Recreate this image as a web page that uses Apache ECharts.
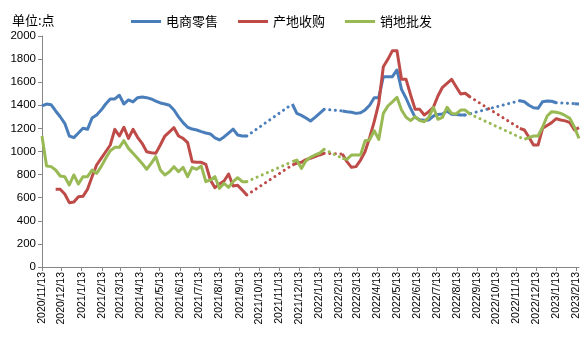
<!DOCTYPE html>
<html><head><meta charset="utf-8">
<script src="https://cdn.jsdelivr.net/npm/echarts@6/dist/echarts.min.js"></script>
<style>html,body{margin:0;padding:0;background:#fff}#c{width:586px;height:350px}</style>
</head><body><div id="c"></div>
<script>
// weekly observation dates start 2020/11/13, 119 weeks
const firstWeek = [2020, 11, 13];
const weekCount = 119;
const seriesNames = ['电商零售', '产地收购', '销地批发'];
const tickLabels = ['2020/11/13','2020/12/13','2021/1/13','2021/2/13','2021/3/13','2021/4/13','2021/5/13','2021/6/13','2021/7/13','2021/8/13','2021/9/13','2021/10/13','2021/11/13','2021/12/13','2022/1/13','2022/2/13','2022/3/13','2022/4/13','2022/5/13','2022/6/13','2022/7/13','2022/8/13','2022/9/13','2022/10/13','2022/11/13','2022/12/13','2023/1/13','2023/2/13'];
const yTicks = [0,200,400,600,800,1000,1200,1400,1600,1800,2000];
const _ = null;
const ecommerce = [
1394,1411,1405,1351,1301,1244,1134,1120,1160,1201,
1192,1290,1316,1359,1411,1455,1455,1487,1411,1446,
1429,1466,1472,1466,1455,1437,1420,1411,1400,1359,
1300,1250,1210,1194,1186,1172,1160,1152,1117,1100,
1126,1160,1194,1143,1134,1134,_,_,_,_,
_,_,_,_,_,1411,1330,1313,1290,1264,
1296,1330,1365,_,_,_,1351,1345,1340,1330,
1336,1360,1400,1466,1466,1648,1648,1648,1706,1538,
1461,1374,1296,1275,1270,1273,1307,1320,1325,1351,
1322,1320,1316,1316,_,_,_,_,_,_,
_,_,_,_,_,1440,1431,1400,1379,1374,
1431,1437,1435,1422,_,_,_,1414,1411];
const origin = [
_,_,_,673,673,632,557,563,609,612,
673,782,883,941,998,1056,1192,1134,1210,1114,
1192,1123,1071,998,990,984,1056,1134,1170,1206,
1134,1114,1077,912,906,906,889,753,687,719,
745,805,701,707,667,623,_,_,_,_,
_,_,_,_,_,883,900,906,930,941,
955,970,984,_,_,_,978,912,863,869,
926,1000,1120,1258,1417,1734,1798,1873,1873,1625,
1625,1489,1365,1365,1316,1345,1383,1480,1556,1590,
1625,1561,1498,1504,1474,_,_,_,_,_,
_,_,_,_,_,1201,1186,1123,1056,1056,
1201,1225,1250,1284,1273,1265,1250,1186,1206];
const wholesale = [
1134,874,869,840,788,782,710,797,719,782,
782,840,811,869,941,1007,1036,1036,1094,1027,
984,941,897,846,897,955,840,797,825,869,
825,863,782,863,846,874,739,753,782,681,
724,690,739,773,739,739,_,_,_,_,
_,_,_,_,_,912,926,854,920,950,
970,985,1019,_,_,_,941,932,970,970,
970,1094,1100,1180,1105,1330,1394,1430,1469,1359,
1296,1267,1301,1267,1258,1296,1383,1279,1296,1383,
1330,1325,1359,1359,1325,_,_,_,_,_,
_,_,_,_,_,_,1105,1120,1134,1134,
1210,1307,1345,1340,1330,1310,1287,1210,1114];
const colors = ['#4A7EBB', '#BE4B48', '#98B954'];

const dates = [];
for (let i = 0; i < weekCount; i++) dates.push(new Date(firstWeek[0], firstWeek[1]-1, firstWeek[2] + 7*i).getTime());
const toTs = s => { const p = s.split('/').map(Number); return new Date(p[0], p[1]-1, p[2]).getTime(); };
const tickTs = tickLabels.map(toTs);
const fmt = v => { const d = new Date(v); return d.getFullYear()+'/'+(d.getMonth()+1)+'/'+d.getDate(); };

const series = [];
[ecommerce, origin, wholesale].forEach((vals, k) => {
  series.push({
    name: seriesNames[k], type: 'line', showSymbol: false, symbol: 'none',
    connectNulls: false, z: 3,
    lineStyle: { color: colors[k], width: 3, join: 'round' },
    itemStyle: { color: colors[k] },
    data: vals.map((v, i) => [dates[i], v == null ? '-' : v])
  });
  let last = -1;
  vals.forEach((v, i) => {
    if (v == null) return;
    if (last >= 0 && i > last + 1) {
      series.push({
        type: 'line', showSymbol: false, symbol: 'none', silent: true, z: 2,
        lineStyle: { color: colors[k], width: 3, type: [0.1, 5.5], cap: 'round' },
        data: [[dates[last], vals[last]], [dates[i], v]]
      });
    }
    last = i;
  });
});

const chart = echarts.init(document.getElementById('c'), null, { renderer: 'canvas' });
chart.setOption({
  animation: false,
  backgroundColor: '#fff',
  textStyle: { fontFamily: 'Liberation Sans, "Noto Sans CJK SC", sans-serif' },
  title: { text: '单位:点', left: 7, top: 9, textStyle: { fontSize: 13, fontWeight: 'normal', color: '#000', fontFamily: '"Noto Sans CJK SC", sans-serif' } },
  legend: {
    data: seriesNames, left: 126, top: 10, icon: 'rect', itemWidth: 30, itemHeight: 3, itemGap: 20,
    textStyle: { fontSize: 13, color: '#000', fontFamily: '"Noto Sans CJK SC", sans-serif' }
  },
  grid: { left: 42, right: 7, top: 36, bottom: 83, containLabel: false },
  xAxis: {
    type: 'value', min: dates[0], max: dates[weekCount-1],
    splitLine: { show: false },
    axisLine: { show: true, lineStyle: { color: '#868686', width: 1 } },
    axisTick: { show: true, length: 4, inside: false, customValues: tickTs, lineStyle: { color: '#868686' } },
    axisLabel: { customValues: tickTs, rotate: 90, fontSize: 10.5, color: '#000', margin: 5, formatter: fmt, hideOverlap: false, showMinLabel: true, showMaxLabel: true }
  },
  yAxis: {
    type: 'value', min: yTicks[0], max: yTicks[yTicks.length-1], interval: 200,
    splitLine: { show: false },
    axisLine: { show: true, lineStyle: { color: '#868686', width: 1 } },
    axisTick: { show: true, length: 4, inside: false, lineStyle: { color: '#868686' } },
    axisLabel: { fontSize: 11.5, color: '#000', margin: 6, formatter: v => String(v) }
  },
  series: series
});
</script></body></html>
